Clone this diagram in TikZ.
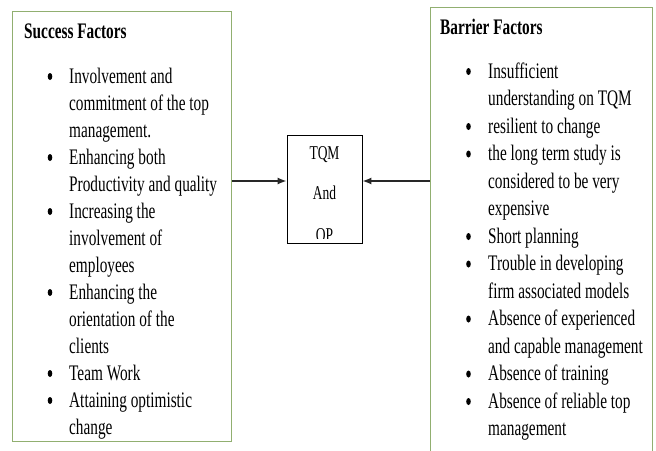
\documentclass[tikz,border=0pt]{standalone}
\usepackage{fontspec}
\setmainfont{Liberation Serif}
\usetikzlibrary{arrows.meta,shapes.geometric}
\definecolor{panelgreen}{RGB}{145,175,112}
\definecolor{linkgray}{RGB}{40,40,40}
\newcommand{\tall}[1]{\scalebox{1}[1.45]{#1}}
\tikzset{
  panel/.style={draw=panelgreen, line width=1.3pt, inner sep=0pt, anchor=north west},
  hub/.style={draw=black, line width=0.9pt, inner sep=0pt, minimum width=75pt, minimum height=108pt},
  link/.style={draw=linkgray, line width=1.4pt, -{Latex[length=9pt,width=7pt]}},
  txt/.style={anchor=base west, inner sep=0pt, font=\fontsize{15.3}{18}\selectfont},
  head/.style={txt, font=\fontsize{15.3}{18}\selectfont\bfseries},
  hubtxt/.style={anchor=base, inner sep=0pt, font=\fontsize{13.5}{16}\selectfont},
  dotmark/.style={fill=black, ellipse, inner sep=0pt, minimum width=4.6pt, minimum height=7pt},
}
\begin{document}
\begin{tikzpicture}[x=1pt, y=-1pt]
  \clip (0,0) rectangle (656,450);
  \fill[white] (0,0) rectangle (656,450);

  % the three boxes
  \node[panel, minimum width=219pt, minimum height=430pt] (succ) at (12,11) {};
  \node[panel, minimum width=222pt, minimum height=450pt] (barr) at (430,7) {};
  \node[hub] (hub) at (324.5,189) {};

  % connectors into the centre box
  \coordinate (lvl) at (0,181);
  \draw[link] (succ.east |- lvl) -- (hub.west |- lvl);
  \draw[link] (barr.west |- lvl) -- (hub.east |- lvl);

  % centre box text; the last line is cut off by the box's inner margin
  \begin{scope}
    \clip ([yshift=4.5pt]hub.south west) rectangle (hub.north east);
    \node[hubtxt] (tqm) at (324.5,159) {\tall{TQM}};
    \node[hubtxt] (and) at (324.5,199) {\tall{And}};
    \node[hubtxt] (op)  at (324.5,241) {\tall{OP}};
  \end{scope}

  % success factors
  \node[head] (stitle) at (24,38) {\tall{Success Factors}};
  \foreach \t [count=\i from 0] in {Involvement and, commitment of the top,
      management., Enhancing both, Productivity and quality, Increasing the,
      involvement of, employees, Enhancing the, orientation of the, clients,
      Team Work, Attaining optimistic, change}
    \node[txt] (s\i) at (69,{83+27*\i}) {\tall{\t}};
  \foreach \i in {0,3,5,8,11,12}
    \node[dotmark] (sb\i) at (50,{76.5+27*\i}) {};

  % barrier factors
  \node[head] (btitle) at (440,34) {\tall{Barrier Factors}};
  \foreach \t [count=\i from 0] in {Insufficient, understanding on TQM,
      resilient to change, the long term study is, considered to be very,
      expensive, Short planning, Trouble in developing, firm associated models,
      Absence of experienced, and capable management, Absence of training,
      Absence of reliable top, management}
    \node[txt] (b\i) at (488,{78+27.5*\i}) {\tall{\t}};
  \foreach \i in {0,2,3,6,7,9,11,12}
    \node[dotmark] (bb\i) at (468.5,{71.5+27.5*\i}) {};
\end{tikzpicture}
\end{document}
